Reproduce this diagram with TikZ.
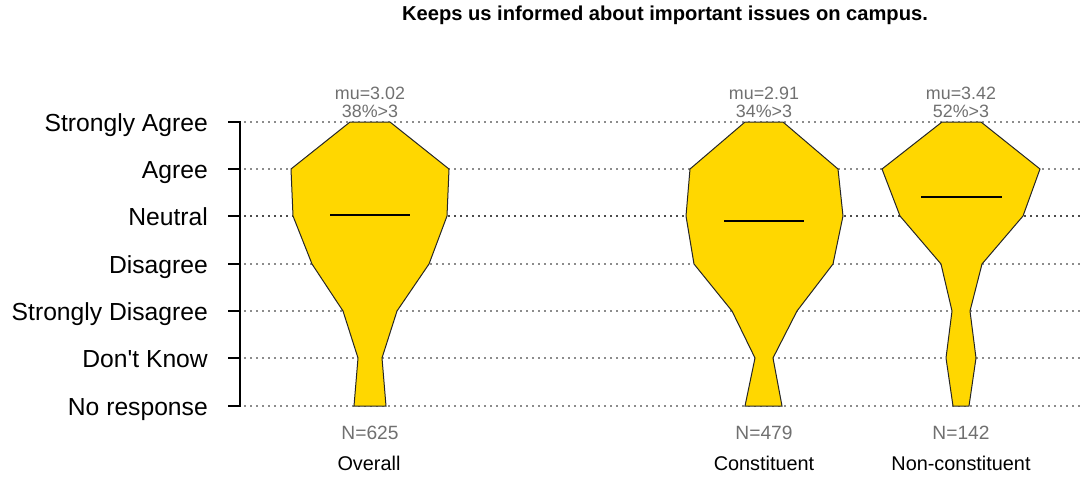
\documentclass[tikz,border=0pt]{standalone}
\usepackage{fontspec}
\setmainfont{Liberation Sans}[Ligatures=TeXOff]
\definecolor{violinfill}{HTML}{FFD700}
\definecolor{labelgray}{HTML}{707070}
\definecolor{gridgray}{HTML}{8C8C8C}

\begin{document}
\begin{tikzpicture}[x=0.75pt,y=-0.75pt,
    grid/.style={gridgray,line width=0.9pt,dash pattern=on 1.6pt off 2.9pt},
    violin/.style={fill=violinfill,draw=black!85,line width=0.75pt,line join=miter},
    median/.style={black,line width=1.5pt},
    lvl/.style={anchor=base east,font=\fontsize{18.5}{20}\selectfont},
    stat/.style={anchor=base,text=labelgray,font=\fontsize{13.4}{14}\selectfont,inner sep=0pt},
    count/.style={anchor=base,text=labelgray,font=\fontsize{14.4}{15}\selectfont,inner sep=0pt},
    grp/.style={anchor=base,font=\fontsize{14.9}{16}\selectfont,inner sep=0pt}]
          \useasboundingbox (0,0) rectangle (1082,479);

          \node[anchor=base,font=\bfseries\fontsize{15.1}{16}\selectfont] (title) at (665,20) {Keeps us informed about important issues on campus.};

          % levels of the answer scale
          \node[lvl] (sa) at (212.5,131) {Strongly Agree};
          \node[lvl] (ag) at (212.5,178) {Agree};
          \node[lvl] (ne) at (212.5,225) {Neutral};
          \node[lvl] (di) at (212.5,273) {Disagree};
          \node[lvl] (sd) at (212.5,320) {Strongly Disagree};
          \node[lvl] (dk) at (212.5,367) {Don't Know};
          \node[lvl] (nr) at (212.5,415) {No response};

          \draw[grid] (244,122) -- (1082,122);
          \draw[grid] (244,169) -- (1082,169);
          \draw[grid,black!70] (244,216) -- (1082,216);
          \draw[grid] (244,264) -- (1082,264);
          \draw[grid] (244,311) -- (1082,311);
          \draw[grid] (244,358) -- (1082,358);
          \draw[grid] (244,406) -- (1082,406);

          \draw[line width=1pt] (228,122) -- (240,122) -- (240,406) -- (228,406);
          \draw[line width=1pt] (228,169) -- (240,169);
          \draw[line width=1pt] (228,216) -- (240,216);
          \draw[line width=1pt] (228,264) -- (240,264);
          \draw[line width=1pt] (228,311) -- (240,311);
          \draw[line width=1pt] (228,358) -- (240,358);

          % Overall
          \filldraw[violin] (350,122) -- (390,122) -- (449,169) -- (447,216) -- (429,264)
            -- (397,311) -- (382,358) -- (386,406) -- (354,406) -- (358,358)
            -- (343,311) -- (312,264) -- (293,216) -- (291,169) -- cycle;
          \draw[median] (330,215) -- (410,215);

          % Constituent
          \filldraw[violin] (745,122) -- (783,122) -- (838,169) -- (843,216) -- (833,264)
            -- (797,311) -- (773,358) -- (782,406) -- (745,406) -- (755,358)
            -- (732,311) -- (694,264) -- (686,216) -- (690,169) -- cycle;
          \draw[median] (724,221) -- (804,221);

          % Non-constituent
          \filldraw[violin] (942,122) -- (981,122) -- (1040,169) -- (1023,216) -- (982,264)
            -- (970,311) -- (976,358) -- (969,406) -- (953,406) -- (946,358)
            -- (952,311) -- (941,264) -- (900,216) -- (882,169) -- cycle;
          \draw[median] (921,197) -- (1002,197);

          \node[stat] (mu1) at (370,99) {mu=3.02};
          \node[stat] (pc1) at (370,117) {38\%>3};
          \node[stat] (mu2) at (764,99) {mu=2.91};
          \node[stat] (pc2) at (764,117) {34\%>3};
          \node[stat] (mu3) at (961,99) {mu=3.42};
          \node[stat] (pc3) at (961,117) {52\%>3};

          \node[count] (n1) at (370,439) {N=625};
          \node[count] (n2) at (764,439) {N=479};
          \node[count] (n3) at (961,439) {N=142};

          \node[grp] (g1) at (369,470) {Overall};
          \node[grp] (g2) at (764,470) {Constituent};
          \node[grp] (g3) at (961,470) {Non-constituent};
        \end{tikzpicture}
\end{document}
